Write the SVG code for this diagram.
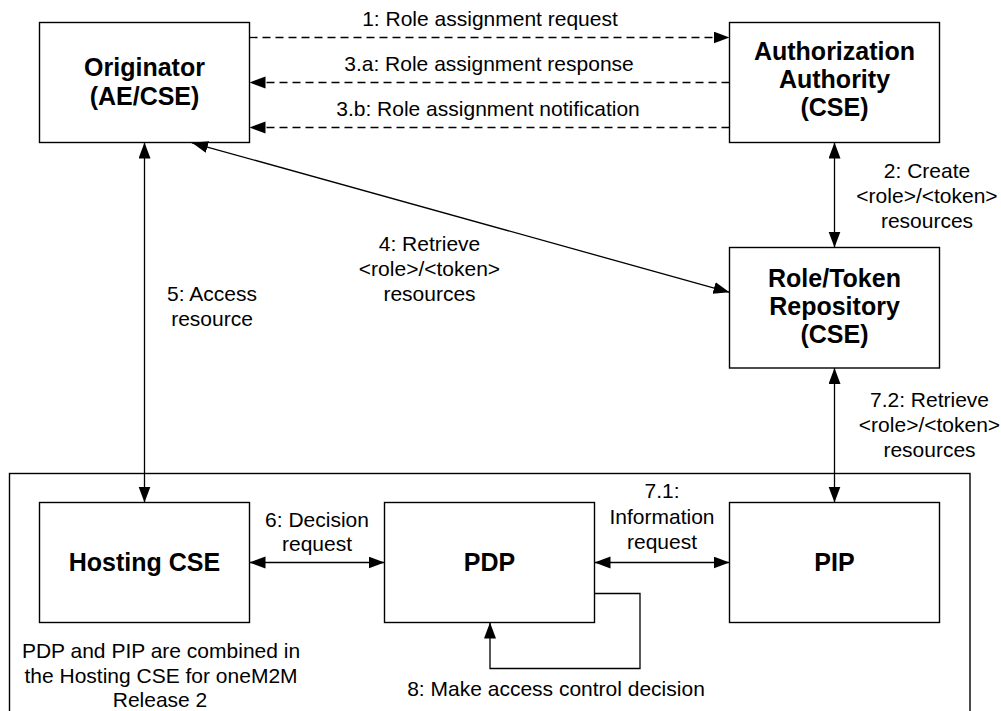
<svg xmlns="http://www.w3.org/2000/svg" width="1001" height="711" viewBox="0 0 1001 711">
<style>
.box{fill:#fff;stroke:#000;stroke-width:1.4}
.frame{fill:none;stroke:#000;stroke-width:1.4}
.t{font-family:"Liberation Sans",Arial,sans-serif;font-size:21px;fill:#000;text-anchor:middle}
.b{font-family:"Liberation Sans",Arial,sans-serif;font-size:25px;font-weight:bold;fill:#000;text-anchor:middle}
.c{fill:none;stroke:#000;stroke-width:1.3}
.d{stroke-dasharray:8 5}
</style>
<defs>
<marker id="ah" markerUnits="userSpaceOnUse" markerWidth="17" markerHeight="13" refX="16" refY="6" orient="auto-start-reverse">
<path d="M0,0 L16,6 L0,12 z" fill="#000"/>
</marker>
</defs>
<rect class="frame" x="9.5" y="473.5" width="960.5" height="260"/>
<g id="originator"><rect class="box" x="39.5" y="22.5" width="210" height="120"/><text class="b" x="144.5" y="76">Originator</text><text class="b" x="144.5" y="105">(AE/CSE)</text></g>
<g id="authority"><rect class="box" x="729.5" y="22.5" width="210" height="120"/><text class="b" x="834.5" y="60">Authorization</text><text class="b" x="834.5" y="88">Authority</text><text class="b" x="834.5" y="116">(CSE)</text></g>
<g id="repository"><rect class="box" x="729.5" y="247.5" width="210" height="120.5"/><text class="b" x="834.5" y="287">Role/Token</text><text class="b" x="834.5" y="315">Repository</text><text class="b" x="834.5" y="343">(CSE)</text></g>
<g id="hosting"><rect class="box" x="39.5" y="502.5" width="210" height="120"/><text class="b" x="144.5" y="571">Hosting CSE</text></g>
<g id="pdp"><rect class="box" x="384.5" y="502.5" width="210" height="120"/><text class="b" x="489.5" y="571">PDP</text></g>
<g id="pip"><rect class="box" x="729.5" y="502.5" width="210" height="120"/><text class="b" x="834.5" y="571">PIP</text></g>
<g id="connectors">
<line class="c d" x1="249.5" y1="37.5" x2="729.5" y2="37.5" marker-end="url(#ah)"/>
<line class="c d" x1="729.5" y1="82.5" x2="249.5" y2="82.5" marker-end="url(#ah)"/>
<line class="c d" x1="729.5" y1="127.5" x2="249.5" y2="127.5" marker-end="url(#ah)"/>
<line class="c" x1="834.5" y1="142.5" x2="834.5" y2="247.5" marker-start="url(#ah)" marker-end="url(#ah)"/>
<line class="c" x1="192" y1="142.8" x2="729.5" y2="292.3" marker-start="url(#ah)" marker-end="url(#ah)"/>
<line class="c" x1="144.5" y1="142.5" x2="144.5" y2="502.5" marker-start="url(#ah)" marker-end="url(#ah)"/>
<line class="c" x1="834.5" y1="368" x2="834.5" y2="502.5" marker-start="url(#ah)" marker-end="url(#ah)"/>
<line class="c" x1="249.5" y1="562.5" x2="384.5" y2="562.5" marker-start="url(#ah)" marker-end="url(#ah)"/>
<line class="c" x1="594.5" y1="562.5" x2="729.5" y2="562.5" marker-start="url(#ah)" marker-end="url(#ah)"/>
<polyline class="c" points="594.5,593.5 640,593.5 640,668.5 490,668.5 490,622.5" marker-end="url(#ah)"/>
<text class="t" x="490" y="26">1: Role assignment request</text>
<text class="t" x="489" y="71">3.a: Role assignment response</text>
<text class="t" x="488" y="115.5">3.b: Role assignment notification</text>
<text class="t" x="927" y="178">2: Create</text>
<text class="t" x="927" y="203">&lt;role&gt;/&lt;token&gt;</text>
<text class="t" x="927" y="228">resources</text>
<text class="t" x="429.5" y="251">4: Retrieve</text>
<text class="t" x="429.5" y="276">&lt;role&gt;/&lt;token&gt;</text>
<text class="t" x="429.5" y="301">resources</text>
<text class="t" x="212" y="301">5: Access</text>
<text class="t" x="212" y="326">resource</text>
<text class="t" x="929.5" y="407">7.2: Retrieve</text>
<text class="t" x="929.5" y="432">&lt;role&gt;/&lt;token&gt;</text>
<text class="t" x="929.5" y="457">resources</text>
<text class="t" x="317" y="527">6: Decision</text>
<text class="t" x="317" y="551">request</text>
<text class="t" x="662" y="498">7.1:</text>
<text class="t" x="662" y="523.5">Information</text>
<text class="t" x="662" y="549">request</text>
<text class="t" x="556" y="696">8: Make access control decision</text>
<text class="t" x="161" y="658">PDP and PIP are combined in</text>
<text class="t" x="161" y="683">the Hosting CSE for oneM2M</text>
<text class="t" x="160" y="707">Release 2</text>
</g>
</svg>
